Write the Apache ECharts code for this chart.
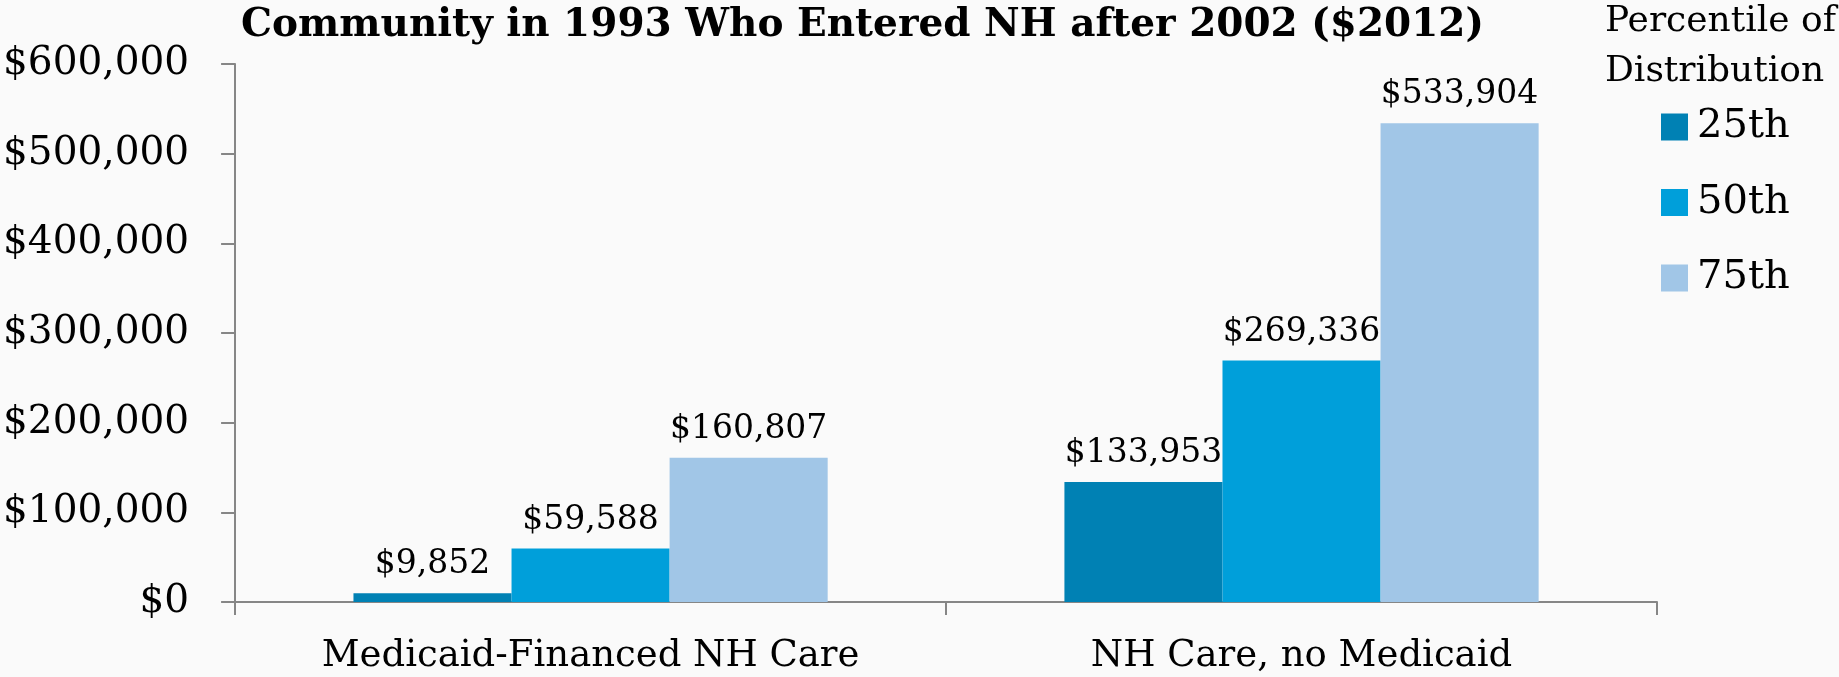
<!DOCTYPE html>
<html>
<head>
<meta charset="utf-8">
<script src="https://cdn.jsdelivr.net/npm/echarts@6/dist/echarts.min.js"></script>
<style>
html,body{margin:0;padding:0;background:#fafafa;}
#chart{width:1839px;height:677px;}
</style>
</head>
<body>
<div id="chart"></div>
<script>
var categories = ['Medicaid-Financed NH Care', 'NH Care, no Medicaid'];
var seriesNames = ['25th', '50th', '75th'];
var p25 = [9852, 133953];
var p50 = [59588, 269336];
var p75 = [160807, 533904];
var yTicks = [0, 100000, 200000, 300000, 400000, 500000, 600000];
var colors = ['#0081B4', '#009FDA', '#A1C6E7'];
var FONT = 'DejaVu Serif';

function money(v) {
  return '$' + String(Math.round(v)).replace(/\B(?=(\d{3})+(?!\d))/g, ',');
}

var chart = echarts.init(document.getElementById('chart'));
var values = [p25, p50, p75];
var series = seriesNames.map(function (n, i) {
  return {
    name: n,
    type: 'bar',
    data: values[i],
    barGap: '0%',
    barCategoryGap: '33.3%',
    itemStyle: { color: colors[i] },
    label: {
      show: true,
      position: 'top',
      distance: 12,
      fontFamily: FONT,
      fontSize: 33,
      color: '#000',
      formatter: function (p) { return money(p.value); }
    }
  };
});

chart.setOption({
  backgroundColor: '#fafafa',
  animation: false,
  color: colors,
  title: [{
    text: 'Community in 1993 Who Entered NH after 2002 ($2012)',
    left: 236,
    top: 1,
    textStyle: { fontFamily: FONT, fontWeight: 'bold', fontSize: 39, color: '#000' }
  }, {
    text: 'Percentile of\nDistribution',
    left: 1600,
    top: -8,
    textStyle: { fontFamily: FONT, fontWeight: 'normal', fontSize: 36, lineHeight: 50, color: '#000' }
  }],
  legend: {
    orient: 'vertical',
    left: 1656,
    top: 102,
    itemWidth: 27,
    itemHeight: 27,
    itemGap: 35.5,
    icon: 'rect',
    textStyle: { fontFamily: FONT, fontSize: 40, color: '#000', padding: [0, 0, 0, 4] },
    data: seriesNames
  },
  grid: { left: 233, right: 182, top: 64, bottom: 75, containLabel: false },
  xAxis: {
    type: 'category',
    data: categories,
    axisLine: { lineStyle: { color: '#868686', width: 2 } },
    axisTick: { show: true, length: 13, lineStyle: { color: '#868686', width: 2 } },
    axisLabel: { fontFamily: FONT, fontSize: 37, color: '#000', margin: 36 }
  },
  yAxis: {
    type: 'value',
    min: 0,
    max: 600000,
    interval: 100000,
    splitLine: { show: false },
    axisLine: { show: true, lineStyle: { color: '#868686', width: 2 } },
    axisTick: { show: true, length: 14, lineStyle: { color: '#868686', width: 2 } },
    axisLabel: {
      fontFamily: FONT, fontSize: 39, color: '#000', margin: 46, padding: [4, 0, 0, 0],
      formatter: function (v) { return yTicks.indexOf(v) >= 0 ? money(v) : ''; }
    }
  },
  series: series
});
</script>
</body>
</html>
